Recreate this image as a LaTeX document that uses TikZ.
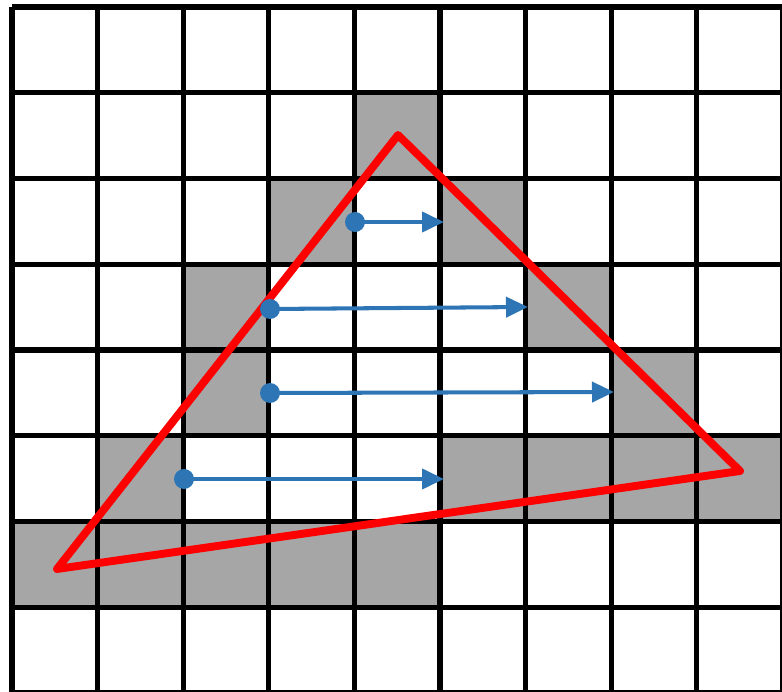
\documentclass[tikz,border=0pt]{standalone}
\usetikzlibrary{arrows.meta}
\definecolor{cellgray}{RGB}{166,166,166}
\definecolor{tri}{RGB}{255,0,0}
\definecolor{arrblue}{RGB}{46,117,182}
\tikzset{
  gridline/.style={line width=2.95pt, black},
  triline/.style={line width=4.5pt, tri, line join=round, line cap=round},
  dot/.style={circle, fill=arrblue, inner sep=0pt, minimum size=0.4cm},
  scanarrow/.style={line width=2.3pt, arrblue, -{Triangle[length=0.44cm,width=0.4cm]}}
}
\begin{document}
\begin{tikzpicture}[x=0.02cm,y=-0.02cm]
\useasboundingbox (0,0) rectangle (782,692);
\fill[white] (0,0) rectangle (782,692);
% gray cells: (col,row)
\foreach \c/\r in {4/1, 3/2, 5/2, 2/3, 6/3, 2/4, 7/4, 1/5, 5/5, 6/5, 7/5, 8/5, 0/6, 1/6, 2/6, 3/6, 4/6}
  \fill[cellgray] ({12+85.6*\c},{7+85.75*\r}) rectangle ({12+85.6*(\c+1)},{7+85.75*(\r+1)});
% grid
\foreach \c in {0,...,9}
  \draw[gridline] ({12+85.6*\c},7) -- ({12+85.6*\c},693);
\foreach \r in {0,...,8}
  \draw[gridline] (12,{7+85.75*\r}) -- (782,{7+85.75*\r});
% triangle
\coordinate (A) at (398,135);
\coordinate (B) at (57,569);
\coordinate (C) at (740,471);
\draw[triline] (A) -- (B) -- (C) -- cycle;
% scan arrows
\node[dot] (d1) at (355,222) {};
\node[dot] (d2) at (270,309) {};
\node[dot] (d3) at (270,393) {};
\node[dot] (d4) at (184,479) {};
\coordinate (e1) at (444,222);
\coordinate (e2) at (528,307);
\coordinate (e3) at (614,392);
\coordinate (e4) at (444,479);
\draw[scanarrow] (d1.center) -- (e1);
\draw[scanarrow] (d2.center) -- (e2);
\draw[scanarrow] (d3.center) -- (e3);
\draw[scanarrow] (d4.center) -- (e4);
\end{tikzpicture}
\end{document}
